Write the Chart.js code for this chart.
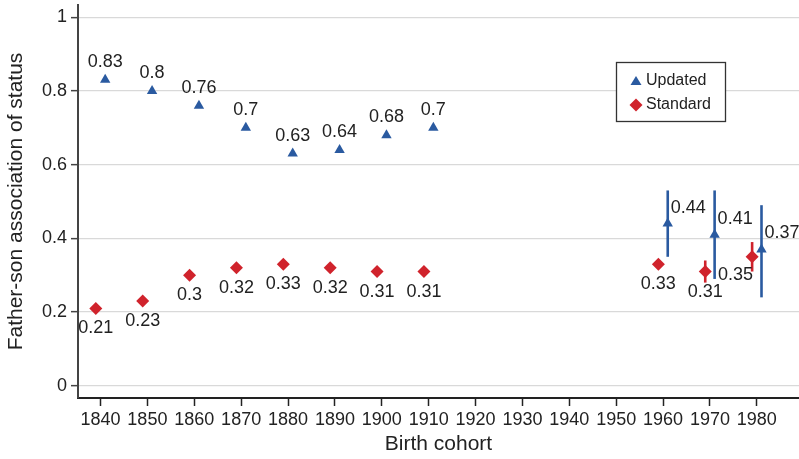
<!DOCTYPE html>
<html>
<head>
<meta charset="utf-8">
<script src="https://cdn.jsdelivr.net/npm/chart.js@4.4.1/dist/chart.umd.min.js"></script>
<style>
  html, body { margin: 0; padding: 0; background: #fff; overflow: hidden; }
  #wrap { width: 799px; height: 459px; position: relative; }
  #myChart { display: block; }
</style>
</head>
<body>
<div id="wrap"><canvas id="myChart"></canvas></div>
<script>
// data
const xTicks = [1840, 1850, 1860, 1870, 1880, 1890, 1900, 1910, 1920, 1930, 1940, 1950, 1960, 1970, 1980];
const yTicks = [0, 0.2, 0.4, 0.6, 0.8, 1];

const updatedYears = [1841, 1851, 1861, 1871, 1881, 1891, 1901, 1911, 1961, 1971, 1981];
const updatedValues = [0.83, 0.8, 0.76, 0.7, 0.63, 0.64, 0.68, 0.7, 0.44, 0.41, 0.37];
const updatedLow = [null, null, null, null, null, null, null, null, 0.35, 0.29, 0.24];
const updatedHigh = [null, null, null, null, null, null, null, null, 0.53, 0.53, 0.49];

const standardYears = [1839, 1849, 1859, 1869, 1879, 1889, 1899, 1909, 1959, 1969, 1979];
const standardValues = [0.21, 0.23, 0.3, 0.32, 0.33, 0.32, 0.31, 0.31, 0.33, 0.31, 0.35];
const standardLow = [null, null, null, null, null, null, null, null, null, 0.28, 0.31];
const standardHigh = [null, null, null, null, null, null, null, null, null, 0.34, 0.39];

// where each value label sits relative to its marker
const updatedPlace = ['above', 'above', 'above', 'above', 'above', 'above', 'above', 'above', 'ne', 'ne', 'ne'];
const standardPlace = ['below', 'below', 'below', 'below', 'below', 'below', 'below', 'below', 'below', 'below', 'sw'];

const BLUE = '#2a5aa0';
const RED = '#d0232c';
const FONT = "'Liberation Sans', Arial, Helvetica, sans-serif";

Chart.defaults.font.family = FONT;
Chart.defaults.color = '#222';

function fmt(v) { return String(+v.toFixed(2)); }

const errorBars = {
    id: 'errorBars',
    beforeDatasetsDraw(chart) {
        const ctx = chart.ctx, x = chart.scales.x, y = chart.scales.y;
        const sets = [
            [updatedYears, updatedLow, updatedHigh, BLUE, 2.6],
            [standardYears, standardLow, standardHigh, RED, 2.6]
        ];
        ctx.save();
        sets.forEach(([yrs, lo, hi, col, w]) => {
            ctx.strokeStyle = col;
            ctx.lineWidth = w;
            yrs.forEach((yr, i) => {
                if (lo[i] == null) return;
                const px = x.getPixelForValue(yr);
                ctx.beginPath();
                ctx.moveTo(px, y.getPixelForValue(lo[i]));
                ctx.lineTo(px, y.getPixelForValue(hi[i]));
                ctx.stroke();
            });
        });
        ctx.restore();
    }
};

const valueLabels = {
    id: 'valueLabels',
    afterDatasetsDraw(chart) {
        const ctx = chart.ctx, x = chart.scales.x, y = chart.scales.y;
        ctx.save();
        ctx.font = '18px ' + FONT;
        ctx.fillStyle = '#222';
        ctx.textBaseline = 'middle';
        const put = (yrs, vals, place) => {
            yrs.forEach((yr, i) => {
                const px = x.getPixelForValue(yr), py = y.getPixelForValue(vals[i]);
                const p = place[i];
                if (p === 'above') { ctx.textAlign = 'center'; ctx.fillText(fmt(vals[i]), px, py - 18); }
                else if (p === 'below') { ctx.textAlign = 'center'; ctx.fillText(fmt(vals[i]), px, py + 20); }
                else if (p === 'ne') { ctx.textAlign = 'left'; ctx.fillText(fmt(vals[i]), px + 3, py - 16); }
                else if (p === 'sw') { ctx.textAlign = 'right'; ctx.fillText(fmt(vals[i]), px + 1, py + 18); }
            });
        };
        put(updatedYears, updatedValues, updatedPlace);
        put(standardYears, standardValues, standardPlace);
        ctx.restore();
    }
};

const legendBox = {
    id: 'legendBox',
    afterDraw(chart) {
        const ctx = chart.ctx;
        const bx = 616.5, by = 62.5, bw = 109, bh = 59;
        ctx.save();
        ctx.fillStyle = '#fff';
        ctx.fillRect(bx, by, bw, bh);
        ctx.strokeStyle = '#333';
        ctx.lineWidth = 1.3;
        ctx.strokeRect(bx, by, bw, bh);
        ctx.fillStyle = BLUE;
        ctx.beginPath();
        ctx.moveTo(636, 76); ctx.lineTo(641.5, 85); ctx.lineTo(630.5, 85); ctx.closePath();
        ctx.fill();
        ctx.fillStyle = RED;
        ctx.beginPath();
        ctx.moveTo(636, 98.5); ctx.lineTo(642.5, 105); ctx.lineTo(636, 111.5); ctx.lineTo(629.5, 105); ctx.closePath();
        ctx.fill();
        ctx.fillStyle = '#222';
        ctx.font = '16px ' + FONT;
        ctx.textAlign = 'left';
        ctx.textBaseline = 'middle';
        ctx.fillText('Updated', 646, 81);
        ctx.fillText('Standard', 646, 105);
        ctx.restore();
    }
};

const ctx = document.getElementById('myChart').getContext('2d');
const chart = new Chart(ctx, {
    type: 'scatter',
    data: {
        datasets: [{
            label: 'Updated',
            data: updatedYears.map((yr, i) => ({ x: yr, y: updatedValues[i] })),
            pointStyle: 'triangle',
            pointRadius: 6,
            pointHoverRadius: 6,
            backgroundColor: BLUE,
            borderColor: BLUE,
            borderWidth: 0
        }, {
            label: 'Standard',
            data: standardYears.map((yr, i) => ({ x: yr, y: standardValues[i] })),
            pointStyle: 'rectRot',
            pointRadius: 6.5,
            pointHoverRadius: 6.5,
            backgroundColor: RED,
            borderColor: RED,
            borderWidth: 0
        }]
    },
    options: {
        responsive: true,
        maintainAspectRatio: false,
        animation: false,
        events: [],
        layout: { autoPadding: false, padding: { top: 5, right: 0, bottom: 0, left: 0 } },
        plugins: {
            legend: { display: false },
            tooltip: { enabled: false }
        },
        scales: {
            x: {
                type: 'linear',
                min: 1835.2,
                max: 1989,
                afterBuildTicks(scale) { scale.ticks = xTicks.map(v => ({ value: v })); },
                afterFit(scale) {
                    scale.height = 61;
                    scale.paddingLeft = 0;
                    scale.paddingRight = 0;
                },
                ticks: {
                    autoSkip: false,
                    maxRotation: 0,
                    padding: 3,
                    font: { size: 18 },
                    color: '#222',
                    callback: v => String(v)
                },
                grid: {
                    drawOnChartArea: false,
                    drawTicks: true,
                    tickLength: 8,
                    tickColor: '#222',
                    tickWidth: 1.5
                },
                border: { display: true, color: '#222', width: 2 },
                title: {
                    display: true,
                    text: 'Birth cohort',
                    font: { size: 21 },
                    color: '#222',
                    padding: { top: 0, bottom: 2 }
                }
            },
            y: {
                type: 'linear',
                min: -0.033,
                max: 1.033,
                afterBuildTicks(scale) { scale.ticks = yTicks.map(v => ({ value: v })); },
                afterFit(scale) {
                    scale.width = 78;
                    scale.paddingTop = 0;
                    scale.paddingBottom = 0;
                },
                ticks: {
                    padding: 4,
                    font: { size: 18 },
                    color: '#222',
                    callback: v => fmt(v)
                },
                grid: {
                    color: '#d9d9d9',
                    lineWidth: 1.3,
                    drawTicks: true,
                    tickLength: 7,
                    tickColor: '#444',
                    tickWidth: 1.5
                },
                border: { display: true, color: '#444', width: 2 },
                title: {
                    display: true,
                    text: 'Father-son association of status',
                    font: { size: 21 },
                    color: '#222',
                    padding: { top: 4, bottom: 0 }
                }
            }
        }
    },
    plugins: [errorBars, valueLabels, legendBox]
});
</script>
</body>
</html>
